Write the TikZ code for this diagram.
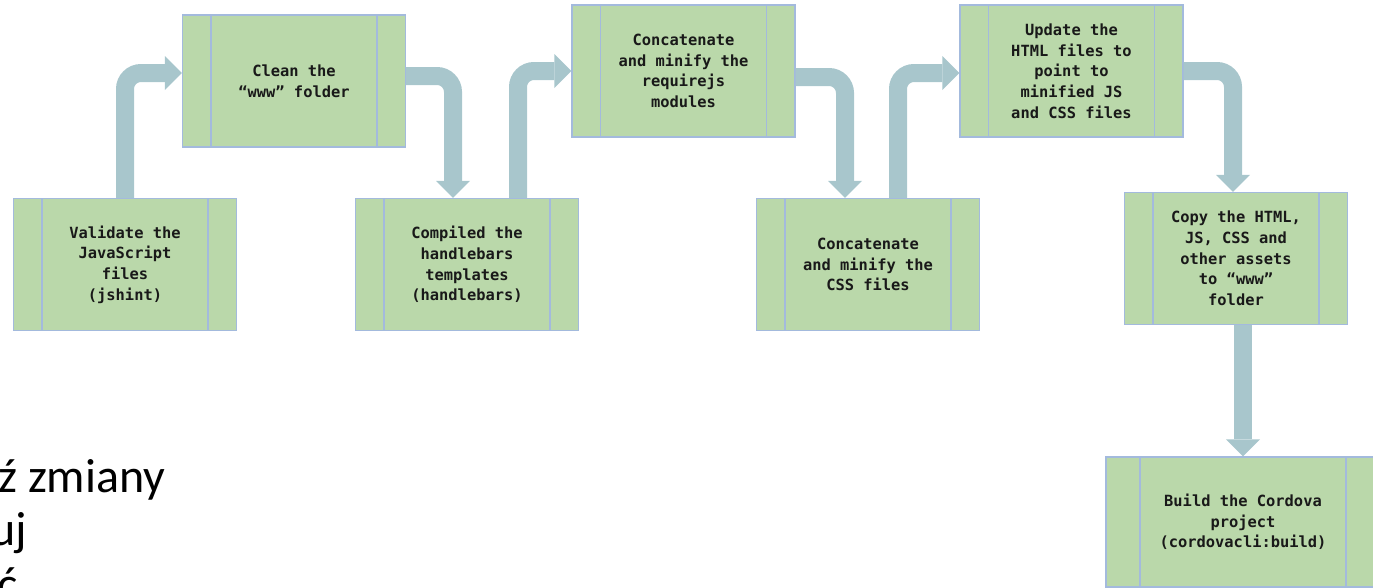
\documentclass[tikz,border=0pt]{standalone}
\usepackage{fontspec}
\usetikzlibrary{arrows.meta}
\newfontfamily\monof{DejaVu Sans Mono}
\newfontfamily\polf{Carlito}
\definecolor{boxfill}{RGB}{186,216,170}
\definecolor{boxline}{RGB}{163,186,221}
\definecolor{arrowcol}{RGB}{168,198,204}
\definecolor{txt}{RGB}{25,25,25}
\begin{document}
\begin{tikzpicture}[x=1pt,y=-1pt,
  proc/.style={draw=boxline, line width=1.3pt, fill=boxfill,
    minimum width=223pt, minimum height=132pt, inner sep=0pt, align=center,
    text=txt, font=\monof\bfseries\fontsize{15.4}{20.7}\selectfont,
    path picture={\draw[boxline, line width=1.3pt]
      ([xshift=#1]path picture bounding box.north west) -- ([xshift=#1]path picture bounding box.south west)
      ([xshift=-#1]path picture bounding box.north east) -- ([xshift=-#1]path picture bounding box.south east);}},
  proc/.default=28.5pt,
  flow/.style={draw=arrowcol, line width=18pt, rounded corners=16pt,
    -{Triangle[width=34pt,length=17pt,line width=0pt 0]}},
  pol/.style={anchor=base west, inner sep=0pt, font=\polf\fontsize{48}{58}\selectfont, text=black}
]
\useasboundingbox (0,0) rectangle (1373,587);
\clip (0,0) rectangle (1373,587);

\node[proc] (b1) at (125,264.5) {Validate the\\JavaScript\\files\\(jshint)};
\node[proc] (b2) at (294,81) {Clean the\\“www” folder};
\node[proc] (b3) at (467,264.5) {Compiled the\\handlebars\\templates\\(handlebars)};
\node[proc] (b4) at (683.5,71) {Concatenate\\and minify the\\requirejs\\modules};
\node[proc] (b5) at (1071.5,71) {Update the\\HTML files to\\point to\\minified JS\\and CSS files};
\node[proc] (b6) at (868,264.5) {Concatenate\\and minify the\\CSS files};
\node[proc] (b7) at (1236,258.5) {Copy the HTML,\\JS, CSS and\\other assets\\to “www”\\folder};
\node[proc=34pt, minimum width=274pt, minimum height=130pt] (b8) at (1243,522) {Build the Cordova\\project\\(cordovacli:build)};

\draw[flow] (b1.north) |- ([yshift=8pt]b2.west);
\draw[flow] ([yshift=5pt]b2.east) -| ([xshift=-14pt]b3.north);
\draw[flow] ([xshift=51pt]b3.north) |- (b4.west);
\draw[flow] ([yshift=-6pt]b4.east) -| ([xshift=-23pt]b6.north);
\draw[flow] ([xshift=30pt]b6.north) |- ([yshift=-2pt]b5.west);
\draw[flow] (b5.east) -| ([xshift=-3pt]b7.north);
\draw[flow] (b7.south -| b8.north) -- (b8.north);

\node[pol] (t1) at (-2,492) {ź zmiany};
\node[pol] (t2) at (-10,545) {uj};
\node[pol] (t3) at (-3,600) {ć};
\end{tikzpicture}
\end{document}
